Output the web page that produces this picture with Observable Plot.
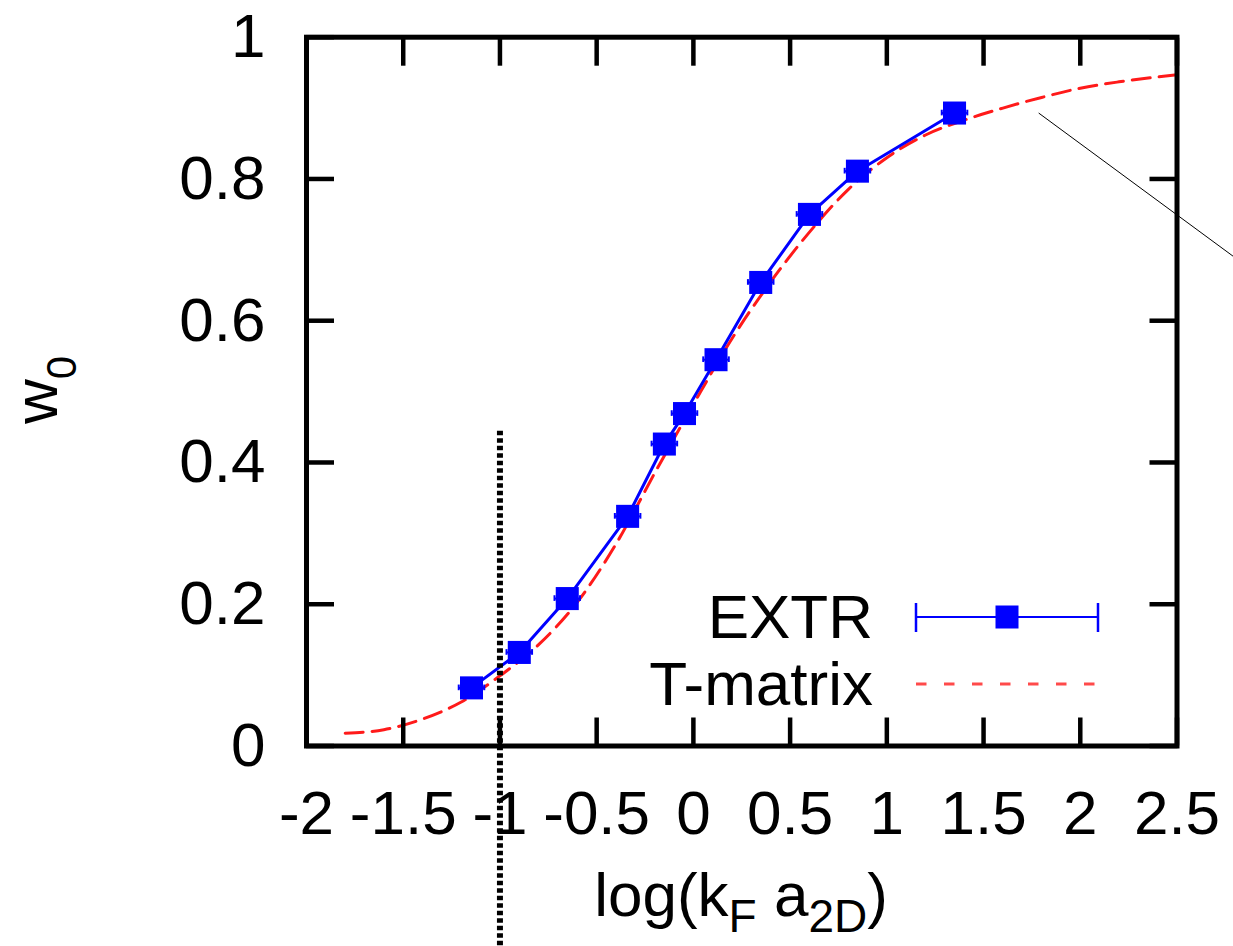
<!DOCTYPE html>
<html>
<head>
<meta charset="utf-8">
<script src="https://cdn.jsdelivr.net/npm/d3@7"></script>
<script src="https://cdn.jsdelivr.net/npm/@observablehq/plot@0.6"></script>
<style>
  html, body { margin: 0; padding: 0; background: #fff; }
  #chart svg { display: block; }
</style>
</head>
<body>
<div id="chart"></div>
<script>
// EXTR data points (blue squares with horizontal error bars)
const extrX   = [-1.147, -0.900, -0.652, -0.340, -0.150, -0.046, 0.117, 0.348, 0.600, 0.848, 1.350];
const extrY   = [0.082, 0.132, 0.208, 0.324, 0.426, 0.469, 0.545, 0.654, 0.750, 0.811, 0.893];
const extrErr = [0.066, 0.066, 0.066, 0.066, 0.066, 0.066, 0.066, 0.066, 0.066, 0.066, 0.066];

// T-matrix curve (red dashed)
const tmX = [-1.8, -1.6, -1.4, -1.2, -1.0, -0.8, -0.6, -0.4, -0.2, 0.0, 0.2, 0.4, 0.6, 0.8, 1.0, 1.2, 1.4, 1.6, 1.8, 2.0, 2.2, 2.5];
const tmY = [0.018, 0.023, 0.038, 0.062, 0.099, 0.143, 0.203, 0.285, 0.385, 0.482, 0.575, 0.655, 0.725, 0.785, 0.830, 0.862, 0.883, 0.900, 0.915, 0.928, 0.937, 0.947];

// Vertical dotted marker at log(kF a2D) = -1
const markerX = [-1];
const markerYTop = [0.444];
const markerYBottom = [-0.283];

// Thin pointer line
const pointerX1 = [1.785], pointerY1 = [0.893], pointerX2 = [2.80], pointerY2 = [0.689];

// Ticks
const xTicks = [-2, -1.5, -1, -0.5, 0, 0.5, 1, 1.5, 2, 2.5];
const yTicks = [0, 0.2, 0.4, 0.6, 0.8, 1];

const extr = extrX.map((x, i) => ({x, y: extrY[i], err: extrErr[i]}));
const tm = tmX.map((x, i) => ({x, y: tmY[i]}));
const marker = markerX.map((x, i) => ({x, y1: markerYTop[i], y2: markerYBottom[i]}));
const pointer = pointerX1.map((x1, i) => ({x1, y1: pointerY1[i], x2: pointerX2[i], y2: pointerY2[i]}));

const FONT = "'Liberation Sans', Arial, Helvetica, sans-serif";
const W = 1233, H = 946;
const mL = 306, mR = 56.5, mT = 36.7, mB = 200.5;

const chart = Plot.plot({
  width: W, height: H,
  marginLeft: mL, marginRight: mR, marginTop: mT, marginBottom: mB,
  style: {fontFamily: FONT, fontSize: "62px", color: "black", background: "white", overflow: "visible"},
  x: {domain: [-2, 2.5]},
  y: {domain: [0, 1]},
  marks: [
    Plot.line(tm, {x: "x", y: "y", stroke: "#ff1a1a", strokeWidth: 3, strokeDasharray: "18,9", curve: "monotone-x"}),
    Plot.line(extr, {x: "x", y: "y", stroke: "#0000ff", strokeWidth: 3}),
    Plot.ruleY(extr, {y: "y", x1: d => d.x - d.err, x2: d => d.x + d.err, stroke: "#0000ff", strokeWidth: 2}),
    Plot.ruleX(extr, {x: d => d.x - d.err, y1: d => d.y - 0.004, y2: d => d.y + 0.004, stroke: "#0000ff", strokeWidth: 2}),
    Plot.ruleX(extr, {x: d => d.x + d.err, y1: d => d.y - 0.004, y2: d => d.y + 0.004, stroke: "#0000ff", strokeWidth: 2}),
    Plot.dot(extr, {x: "x", y: "y", symbol: "square", r: 13, fill: "#0000ff", stroke: "none"}),
    Plot.ruleX(marker, {x: "x", y1: "y1", y2: "y2", stroke: "black", strokeWidth: 6, strokeDasharray: "4.5,3"}),
    Plot.link(pointer, {x1: "x1", y1: "y1", x2: "x2", y2: "y2", stroke: "black", strokeWidth: 1}),
    Plot.axisX({anchor: "bottom", ticks: xTicks, tickSize: -28, tickPadding: 71.5, tickFormat: d => String(d), strokeWidth: 4.5, label: null}),
    Plot.axisX({anchor: "top", ticks: xTicks, tickSize: -28, tickFormat: () => "", strokeWidth: 4.5, label: null}),
    Plot.axisY({anchor: "left", ticks: yTicks, tickSize: -28, tickPadding: 69, tickFormat: d => String(d), strokeWidth: 4.5, label: null}),
    Plot.axisY({anchor: "right", ticks: yTicks, tickSize: -28, tickFormat: () => "", strokeWidth: 4.5, label: null}),
    Plot.frame({stroke: "black", strokeWidth: 5})
  ]
});

document.getElementById("chart").appendChild(chart);

const svg = d3.select(chart);
const g = svg.append("g").attr("font-family", FONT).attr("fill", "black");

// Y axis label: w_0
const yl = g.append("text")
  .attr("transform", "translate(57,390) rotate(-90)")
  .attr("text-anchor", "middle")
  .attr("font-size", 62);
yl.append("tspan").text("w");
yl.append("tspan").attr("font-size", 42).attr("dy", 19).text("0");

// X axis label: log(k_F a_2D)
const xl = g.append("text")
  .attr("x", 741).attr("y", 916)
  .attr("text-anchor", "middle")
  .attr("font-size", 62);
xl.append("tspan").text("log(k");
xl.append("tspan").attr("font-size", 46).attr("dy", 16).text("F");
xl.append("tspan").attr("dy", -16).text(" a");
xl.append("tspan").attr("font-size", 46).attr("dy", 16).text("2D");
xl.append("tspan").attr("dy", -16).text(")");

// Legend
const lg = g.append("g");
lg.append("text").attr("x", 873).attr("y", 638).attr("text-anchor", "end").attr("font-size", 62).text("EXTR");
lg.append("text").attr("x", 873).attr("y", 705).attr("text-anchor", "end").attr("font-size", 62).text("T-matrix");
lg.append("line").attr("x1", 916).attr("x2", 1098).attr("y1", 617).attr("y2", 617).attr("stroke", "#0000ff").attr("stroke-width", 2);
lg.append("line").attr("x1", 916).attr("x2", 916).attr("y1", 603).attr("y2", 632).attr("stroke", "#0000ff").attr("stroke-width", 2.5);
lg.append("line").attr("x1", 1098).attr("x2", 1098).attr("y1", 603).attr("y2", 632).attr("stroke", "#0000ff").attr("stroke-width", 2.5);
lg.append("rect").attr("x", 995.5).attr("y", 605.5).attr("width", 23).attr("height", 23).attr("fill", "#0000ff");
lg.append("line").attr("x1", 916).attr("x2", 1098).attr("y1", 684).attr("y2", 684).attr("stroke", "#ff4a4a").attr("stroke-width", 3).attr("stroke-dasharray", "10.5,17.5");
</script>
</body>
</html>
